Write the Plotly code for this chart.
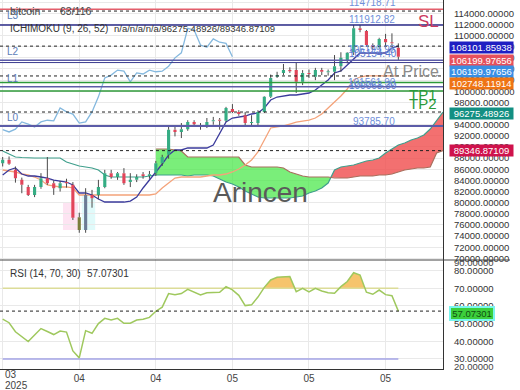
import plotly.graph_objects as go
import pandas as pd
import numpy as np

# ---------------- data ----------------
start_date = "2025-03-26"

opens = [87100, 87700, 85900, 84100, 82800, 81400, 82800, 84400, 83500, 82600,
         83700, 83200, 77400, 75100, 81400, 81400, 82800, 85300, 84600, 85300,
         83700, 84100, 85100, 84800, 85300, 87100, 88600, 93100, 92700, 93200,
         94500, 93900, 93600, 94600, 94900, 94700, 96800, 96300, 95700, 94300,
         94300, 96300, 99000, 102600, 103300, 103800, 103800, 101700, 103300, 102600,
         103800, 103400, 103500, 104500, 105600, 107000, 111300, 110800, 108300, 107900,
         109400, 108800, 107800]
highs = [88200, 88300, 86500, 84500, 83200, 83200, 85300, 88200, 84000, 83900,
         84300, 83700, 78200, 82600, 82300, 84100, 85900, 85900, 85500, 86200,
         85300, 85100, 85500, 85700, 87500, 88600, 93800, 93600, 94300, 94800,
         94800, 94300, 95200, 95400, 95200, 97200, 97700, 96600, 96300, 95700,
         96600, 99100, 103000, 103500, 104900, 104300, 105200, 103800, 103900, 104200,
         104200, 103900, 106500, 107000, 107000, 111900, 111900, 111000, 108600, 109600,
         110300, 110400, 108600]
lows = [86500, 86800, 83600, 81700, 81200, 81000, 82500, 83200, 81400, 82000,
        82700, 76900, 74600, 74600, 79100, 80600, 82600, 84300, 84100, 83200,
        82800, 83700, 84300, 84300, 84800, 86600, 87900, 91900, 91600, 92900,
        93900, 93100, 93400, 94000, 93100, 94500, 96100, 95600, 93600, 93600,
        93600, 96100, 98800, 102400, 102900, 103300, 99700, 101100, 102400, 102000,
        102900, 102800, 102000, 103500, 105000, 106500, 110600, 108000, 107500, 107600,
        107900, 108300, 105600]
closes = [87700, 87000, 84400, 83200, 81400, 82800, 84400, 83500, 82600, 83500,
          83500, 77300, 75100, 81400, 80800, 82800, 85300, 84600, 85300, 83500,
          84100, 84600, 84800, 85100, 87100, 88200, 93100, 92700, 93200, 94500,
          94100, 93600, 94500, 94800, 94700, 97000, 96300, 95900, 94300, 94500,
          96300, 99000, 102400, 102900, 103800, 103600, 101700, 103300, 103100, 103800,
          103500, 103600, 104500, 106000, 106900, 111300, 111000, 108300, 107900, 109400,
          108800, 108600, 106199.98]

tenkan = [84970, 85870, 86230, 85150, 84790, 84790, 84610, 84430, 84070, 83890,
          83710, 83180, 81740, 81740, 81380, 80660, 80120, 80120, 80120, 80120,
          80300, 81020, 82640, 84070, 85330, 86940, 88560, 89460, 89460, 89820,
          89820, 89820, 89820, 90360, 92510, 94480, 95200, 95380, 95560, 95920,
          96100, 97000, 98430, 98970, 99150, 99330, 99330, 99510, 99690, 100230,
          101130, 102020, 103280, 103640, 104720, 105790, 106870, 106870, 106870, 106870,
          106870, 107770, 108101.86]
kijun = [85870, 85690, 85510, 85150, 84970, 84610, 84070, 83180, 83000, 82820,
         82820, 82640, 81380, 81380, 81380, 81380, 81380, 81380, 81380, 81380,
         81380, 81380, 81380, 81380, 81560, 82640, 83530, 84430, 84610, 84610,
         84610, 84610, 84790, 84970, 84970, 85150, 85510, 86050, 86770, 87660,
         89100, 91250, 93410, 93590, 93770, 94120, 94480, 94660, 94840, 95200,
         95920, 97000, 98070, 99150, 100410, 102020, 102560, 102748.12, 102748.12, 102748.12,
         102748.12, 102748.12, 102748.12]
span_a = [89280, 88740, 88200, 88110, 88020, 88020, 88020, 88020, 88020, 88020,
          87300, 86950, 86590, 86410, 86230, 85870, 84970, 84610, 84610, 84610,
          84610, 84610, 84610, 84790, 84970, 84970, 84970, 84970, 84970, 84790,
          84970, 84970, 84970, 84790, 84250, 83710, 83360, 82820, 82100, 81560,
          81020, 80840, 80840, 80840, 80840, 80840, 81020, 81200, 81740, 82100,
          82640, 83530, 85870, 86410, 86590, 86770, 87120, 87480, 87660, 88020,
          88920, 89640, 90360, 90720, 91250, 91610, 92150, 93230, 94840, 96275.49]
span_b = [None] * 24 + [
          89640, 89640, 89640, 89460, 89280, 88200,
          88200, 88200, 88200, 88200, 88200, 88200, 88200, 88200, 86770, 86410,
          86410, 86410, 86410, 86410, 86230, 85510, 85150, 84790, 84610, 84610,
          84610, 84610, 84430, 84430, 84430, 84610, 84790, 84790, 84790, 84970,
          84970, 85150, 85510, 85870, 86050, 86230, 86230, 86410, 88920, 89346.87]
rsi = [52.5, 50.5, 45.4, 42.5, 39.8, 43.5, 47.2, 45.5, 43.8, 45.8,
       45.2, 34.5, 30.6, 46.0, 44.5, 50.0, 53.0, 52.0, 53.0, 50.2,
       50.2, 52.0, 52.5, 53.5, 57.0, 59.3, 67.0, 66.3, 67.0, 69.4,
       67.8, 66.2, 67.5, 67.7, 67.7, 70.9, 69.1, 66.0, 60.2, 60.6,
       65.0, 70.5, 74.7, 76.2, 76.6, 76.6, 68.1, 70.0, 68.0, 70.0,
       68.5, 67.5, 67.2, 70.9, 73.8, 78.8, 77.5, 67.8, 66.6, 69.0,
       66.4, 65.8, 57.07301]
chikou_shift = 26
rsi_upper, rsi_lower = 70, 30

# horizontal levels
sl_level = 114718.71
l3_level = 114400
high_level = 111912.82
tenkan_level = 108101.86
at_price_levels = [105550, 105154.40]
tp_levels = [101561.90, 100063.30]
mid_level = 100800
low_level = 93785.70
kijun_level = 102748.12
span_a_level = 96275.49
span_b_level = 89346.87

price_ticks = list(range(70000, 116001, 2000))
rsi_ticks = [30, 40, 50, 60, 70, 80]
x_tick_idx = [0, 12, 24, 36, 48, 60]
x_tick_text = ["", "04", "04", "05", "05", "05"]

# ---------------- helpers ----------------
base = pd.Timestamp(start_date)
def to_date(i):
    return (base + pd.Timedelta(days=float(i))).isoformat()

PW, PH = 443.0, 369.0
def pxx(x):
    return x / PW
def pxy(y):
    return 1 - y / PH

def split_regions(xs, a, b):
    pts = [(x, ai, bi) for x, ai, bi in zip(xs, a, b) if ai is not None and bi is not None]
    regs = []
    seg = [pts[0]]
    s = np.sign(pts[0][1] - pts[0][2])
    for p0, p1 in zip(pts[:-1], pts[1:]):
        s1 = np.sign(p1[1] - p1[2])
        if s1 != s and s1 != 0 and s != 0:
            d0 = p0[1] - p0[2]
            d1 = p1[1] - p1[2]
            t = d0 / (d0 - d1)
            xc = p0[0] + t * (p1[0] - p0[0])
            yc = p0[1] + t * (p1[1] - p0[1])
            seg.append((xc, yc, yc))
            regs.append((s, seg))
            seg = [(xc, yc, yc)]
            s = s1
        seg.append(p1)
    regs.append((s, seg))
    return regs

FONT = "Liberation Sans, Arial, sans-serif"
n = len(closes)
n_all = len(span_a)
dates = [to_date(i) for i in range(n_all)]

fig = go.Figure()

# ---------- Ichimoku cloud ----------
for s, seg in split_regions(list(range(n_all)), span_a, span_b):
    color = "rgba(240,80,80,0.82)" if s > 0 else "rgba(70,232,70,0.72)"
    xx = [to_date(p[0]) for p in seg] + [to_date(p[0]) for p in reversed(seg)]
    yy = [p[1] for p in seg] + [p[2] for p in reversed(seg)]
    fig.add_trace(go.Scatter(x=xx, y=yy, fill="toself", fillcolor=color, mode="lines",
                             line=dict(width=0), hoverinfo="skip", showlegend=False))

fig.add_trace(go.Scatter(x=dates, y=span_a, mode="lines", line=dict(color="#3f9f8c", width=1.2),
                         showlegend=False))
fig.add_trace(go.Scatter(x=dates[24:], y=span_b[24:], mode="lines", line=dict(color="#a8705e", width=1.2),
                         showlegend=False))
# chikou
fig.add_trace(go.Scatter(x=dates[:n - chikou_shift], y=closes[chikou_shift:], mode="lines",
                         line=dict(color="#84b8de", width=1.3), showlegend=False))
# kijun
fig.add_trace(go.Scatter(x=dates[:n], y=kijun, mode="lines", line=dict(color="#f4a37a", width=1.3),
                         showlegend=False))
# tenkan
fig.add_trace(go.Scatter(x=dates[:n], y=tenkan, mode="lines", line=dict(color="#3b3b9c", width=1.3),
                         showlegend=False))

# ---------- candles (overlay axis y3 to be above the indicators) ----------
special = {12: "#7b7c3c", 13: "#6b7b95"}
norm_idx = [i for i in range(n) if i not in special]
wx, wy = [], []
for i in range(n):
    top = max(opens[i], closes[i])
    bot = min(opens[i], closes[i])
    wx += [dates[i], dates[i], None, dates[i], dates[i], None]
    wy += [highs[i], top, None, bot, lows[i], None]
fig.add_trace(go.Scatter(x=wx, y=wy, mode="lines", line=dict(color="#4a4a4a", width=1),
                         yaxis="y3", showlegend=False, hoverinfo="skip"))
fig.add_trace(go.Candlestick(
    x=[dates[i] for i in norm_idx], open=[opens[i] for i in norm_idx],
    high=[highs[i] for i in norm_idx], low=[lows[i] for i in norm_idx],
    close=[closes[i] for i in norm_idx], yaxis="y3",
    increasing=dict(fillcolor="#35ad84", line=dict(color="#35ad84", width=0)),
    decreasing=dict(fillcolor="#e2455a", line=dict(color="#e2455a", width=0)),
    showlegend=False))
for i, col in special.items():
    fig.add_trace(go.Candlestick(
        x=[dates[i]], open=[opens[i]], high=[max(opens[i], closes[i])], low=[min(opens[i], closes[i])],
        close=[closes[i]], yaxis="y3",
        increasing=dict(fillcolor=col, line=dict(color=col, width=0)),
        decreasing=dict(fillcolor=col, line=dict(color=col, width=0)),
        showlegend=False))

# ---------- RSI ----------
rsi_x = list(range(n))
for s, seg in split_regions(rsi_x, rsi, [rsi_upper] * n):
    if s > 0:
        xx = [to_date(p[0]) for p in seg] + [to_date(p[0]) for p in reversed(seg)]
        yy = [p[1] for p in seg] + [p[2] for p in reversed(seg)]
        fig.add_trace(go.Scatter(x=xx, y=yy, fill="toself", fillcolor="#f6c46c", mode="lines",
                                 line=dict(width=0), xaxis="x2", yaxis="y2", showlegend=False))
fig.add_trace(go.Scatter(x=[dates[0], dates[n - 1]], y=[rsi_upper, rsi_upper], mode="lines",
                         line=dict(color="#dcdc98", width=1.5), xaxis="x2", yaxis="y2", showlegend=False))
fig.add_trace(go.Scatter(x=[dates[0], dates[n - 1]], y=[rsi_lower, rsi_lower], mode="lines",
                         line=dict(color="#a3a3e6", width=1.5), xaxis="x2", yaxis="y2", showlegend=False))
fig.add_trace(go.Scatter(x=dates[:n], y=rsi, mode="lines", line=dict(color="#9fc85e", width=1.5),
                         xaxis="x2", yaxis="y2", showlegend=False))

# ---------- level shapes ----------
shapes = []
def hline(y, color, width=1.5, dash="solid", yref="y"):
    shapes.append(dict(type="line", xref="paper", x0=0, x1=1, yref=yref, y0=y, y1=y,
                       line=dict(color=color, width=width, dash=dash), layer="above"))

DASH = "3px,3px"
hline(l3_level, "#222", 1, DASH)
hline(sl_level, "#e35f6c", 1.5)
hline(high_level, "#2b2b88", 1.5)
hline(tenkan_level, "#222", 1, DASH)
hline(at_price_levels[0], "#5c5ca8", 1.5)
hline(at_price_levels[1], "#3b3b8e", 1)
hline(kijun_level, "#222", 1, DASH)
hline(tp_levels[0], "#2f9a3a", 1.5)
hline(mid_level, "#5c5ca8", 1.5)
hline(tp_levels[1], "#2f9a3a", 1.5)
hline(span_a_level, "#222", 1, DASH)
hline(low_level, "#5c5ca8", 2)
hline(span_b_level, "#222", 1, DASH)
hline(rsi[-1], "#222", 1, DASH, yref="y2")

# highlight boxes
shapes.append(dict(type="rect", xref="x", yref="y", x0=to_date(9.45), x1=to_date(11.8),
                   y0=75100, y1=80120, fillcolor="#fde4f2", line=dict(width=0), layer="below"))
shapes.append(dict(type="rect", xref="x", yref="y", x0=to_date(12.4), x1=to_date(14.5),
                   y0=75100, y1=81380, fillcolor="#e0fafa", line=dict(width=0), layer="below"))
# panel separator
shapes.append(dict(type="line", xref="paper", yref="paper", x0=0, x1=510 / PW, y0=pxy(260), y1=pxy(260),
                   line=dict(color="#444", width=1), layer="above"))

# ---------- annotations ----------
ann = []
def text(x, y, t, size=10, color="#333", xanchor="left", **kw):
    ann.append(dict(xref="paper", yref="paper", x=pxx(x), y=pxy(y), text=t, showarrow=False,
                    xanchor=xanchor, yanchor="middle", font=dict(family=FONT, size=size, color=color), **kw))

text(8, 11, "bitcoin", 10.5, "#444")
text(58, 11, "63/116", 10.5, "#444")
text(8, 29, "ICHIMOKU (9, 26, 52)", 10, "#333")
text(112, 29, "n/a/n/a/n/a/96275.48926/89346.87109", 9.5, "#333")
for lab, yy in [("L3", 15), ("L2", 52), ("L1", 78), ("L0", 117)]:
    text(5, yy, lab, 10, "#5d7db8")
LBL = "#6f8fda"
text(372, 2, "114718.71", 10, LBL, "center")
text(372, 20, "111912.82", 10, LBL, "center")
text(372, 50, "106199.98", 10, LBL, "center")
text(373, 53, "105154.40", 10, "#5a78d0", "center")
text(372, 82, "101561.90", 10, LBL, "center")
text(373, 86, "100063.30", 10, "#5a78d0", "center")
text(374, 121, "93785.70", 10, LBL, "center")
text(428, 22, "SL", 17, "#cc3a5e", "center")
text(411, 71, "At Price", 16, "#8c8c8c", "center")
text(423, 95, "TP1", 15, "#2a9a3a", "center")
text(423, 104, "TP2", 15, "#2a9a3a", "center")
text(260, 193, "Arincen", 28, "#5a5a5a", "center")
text(8, 273, "RSI (14, 70, 30)", 10, "#333")
text(85, 273, "57.07301", 10, "#333")
text(452, 262, "90.00000", 9.5, "#444")
text(452, 366, "20.00000", 9.5, "#444")
text(3, 374, "03", 10, "#444")
text(3, 385, "2025", 10, "#444")

boxes = [("108101.85938", 47.7, "#1f1fc2"), ("106199.97656", 60, "#e6505c"),
         ("106199.97656", 71.7, "#3a8fe4"), ("102748.11914", 83.3, "#ef7414"),
         ("96275.48926", 113, "#138f82"), ("89346.87109", 150.5, "#cf124c")]
for t, yy, bg in boxes:
    ann.append(dict(xref="paper", yref="paper", x=pxx(449), y=pxy(yy), text=t, showarrow=False,
                    xanchor="left", yanchor="middle", bgcolor=bg, width=63, height=11, borderpad=0,
                    font=dict(family=FONT, size=9.5, color="white")))
ann.append(dict(xref="paper", yref="paper", x=pxx(449), y=pxy(313), text="57.07301", showarrow=False,
                xanchor="left", yanchor="middle", bgcolor="#3ccf3c", bordercolor="#7af5ee", borderwidth=2,
                width=42, height=11, borderpad=0, font=dict(family=FONT, size=9.5, color="#0f4f0f")))

x_range = [to_date(-0.42), to_date(69.0)]
main_range = [69713, 116383]
rsi_range = [24.3, 86.0]
GRID = "#e9e9e9"

fig.update_layout(
    template="none",
    width=520, height=390, margin=dict(l=0, r=77, t=0, b=21, autoexpand=False),
    paper_bgcolor="white", plot_bgcolor="white", showlegend=False,
    font=dict(family=FONT, size=10, color="#333"),
    xaxis=dict(domain=[0, 1], anchor="y", type="date", range=x_range, showticklabels=False,
               tickvals=[dates[i] for i in x_tick_idx], showgrid=True, gridcolor=GRID,
               zeroline=False, rangeslider=dict(visible=False), automargin=False, ticks=""),
    xaxis2=dict(domain=[0, 1], anchor="y2", type="date", matches="x", range=x_range,
                tickvals=[dates[i] for i in x_tick_idx], ticktext=x_tick_text,
                showgrid=True, gridcolor=GRID, showline=True, linecolor="#333", ticks="",
                tickfont=dict(size=10, color="#444"), zeroline=False, automargin=False),
    yaxis=dict(domain=[1 - 260 / PH, 1], anchor="x", side="right", range=main_range,
               tickvals=price_ticks, tickformat=".5f", showgrid=True, gridcolor=GRID,
               showline=True, linecolor="#333", ticks="", ticklabelstandoff=8,
               tickfont=dict(size=9.5, color="#333"), zeroline=False, automargin=False),
    yaxis2=dict(domain=[0, 1 - 260 / PH], anchor="x2", side="right", range=rsi_range,
                tickvals=rsi_ticks, tickformat=".5f", showgrid=True, gridcolor=GRID,
                showline=True, linecolor="#333", ticks="", ticklabelstandoff=8,
                tickfont=dict(size=9.5, color="#333"), zeroline=False, automargin=False),
    yaxis3=dict(overlaying="y", anchor="x", side="right", range=main_range, visible=False,
                automargin=False),
    shapes=shapes, annotations=ann,
)

fig.write_html("out.html", config={"displayModeBar": False},
               post_script="document.body.style.margin='0px';")
